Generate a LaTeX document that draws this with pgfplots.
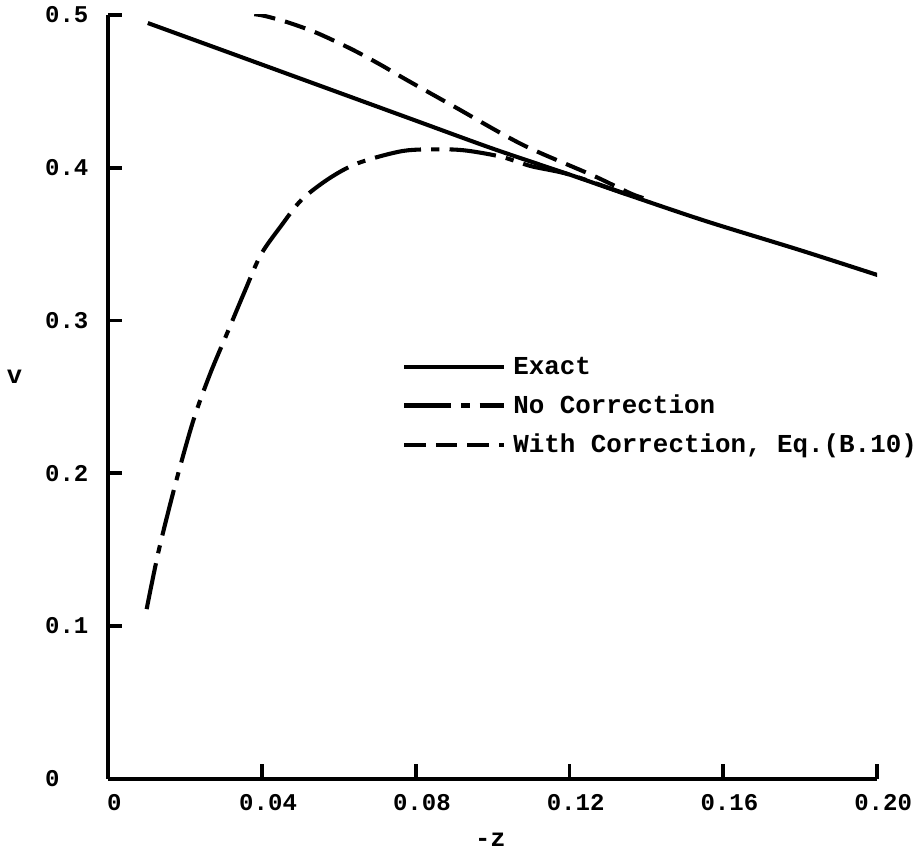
\documentclass[border=0pt]{standalone}
\usepackage{fontspec}
\setmainfont{Liberation Mono}
\usepackage{pgfplots}
\pgfplotsset{compat=1.18}

\begin{document}
\begin{tikzpicture}
\begin{axis}[
  scale only axis,
  width=377.5pt,
  height=375pt,
  xmin=0, xmax=0.2,
  ymin=0, ymax=0.5,
  axis x line=bottom,
  axis y line=left,
  axis line style={-, line width=1.8pt},
  tick align=inside,
  major tick length=7pt,
  every tick/.style={line width=1.8pt, black},
  xtick={0,0.04,0.08,0.12,0.16,0.2},
  xticklabels={0,0.04,0.08,0.12,0.16,0.20},
  ytick={0,0.1,0.2,0.3,0.4,0.5},
  yticklabels={0,0.1,0.2,0.3,0.4,0.5},
  tick label style={font=\bfseries\fontsize{11.8}{13}\selectfont},
  xticklabel style={yshift=-4pt, xshift=3pt},
  yticklabel style={anchor=west, xshift=-34.5pt},
  xlabel={-z},
  ylabel={v},
  every axis x label/.style={at={(axis description cs:0.497,-0.08)}, anchor=center, font=\bfseries\fontsize{12.5}{14}\selectfont},
  every axis y label/.style={at={(axis description cs:-0.122,0.526)}, anchor=center, font=\bfseries\fontsize{12.5}{14}\selectfont},
  legend style={draw=none, fill=none, at={(axis description cs:0.382,0.562)}, anchor=north west,
    font=\bfseries\fontsize{12.7}{14}\selectfont, row sep=1.5pt, inner sep=0pt,
    nodes={inner sep=3.5pt}},
  legend cell align=left,
  legend image code/.code={\draw[#1] (0pt,0pt) -- (49pt,0pt);},
]
% Exact
\addplot[black, line width=2pt, smooth] coordinates {
  (0.0103,0.4947) (0.04,0.4675) (0.0787,0.4320) (0.10,0.4125) (0.12,0.3955)
  (0.1343,0.3830) (0.1555,0.3650) (0.18,0.3460) (0.201,0.3290)
};
\addlegendentry{Exact}
% No correction
\addplot[black, line width=2pt, smooth, dash pattern=on 23pt off 5pt on 4pt off 5pt] coordinates {
  (0.0100,0.111) (0.0132,0.150) (0.0177,0.195) (0.0222,0.235) (0.0265,0.265)
  (0.0310,0.292) (0.0355,0.319) (0.0397,0.343) (0.0450,0.362) (0.0503,0.379)
  (0.0575,0.393) (0.0650,0.403) (0.0768,0.411) (0.0874,0.412) (0.0938,0.411)
  (0.1025,0.407) (0.1100,0.401) (0.1200,0.3955) (0.1350,0.3825)
};
\addlegendentry{No Correction}
% With correction
\addplot[black, line width=2pt, smooth, dash pattern=on 10.5pt off 5pt] coordinates {
  (0.0380,0.5005) (0.0408,0.4993) (0.0469,0.4950) (0.0543,0.4882) (0.0633,0.4776)
  (0.0707,0.4676) (0.0774,0.4578) (0.0900,0.4400) (0.1078,0.4150) (0.1260,0.3950)
  (0.1360,0.3830) (0.1400,0.3795)
};
\addlegendentry{With Correction, Eq.(B.10)}
\end{axis}
\end{tikzpicture}
\end{document}
